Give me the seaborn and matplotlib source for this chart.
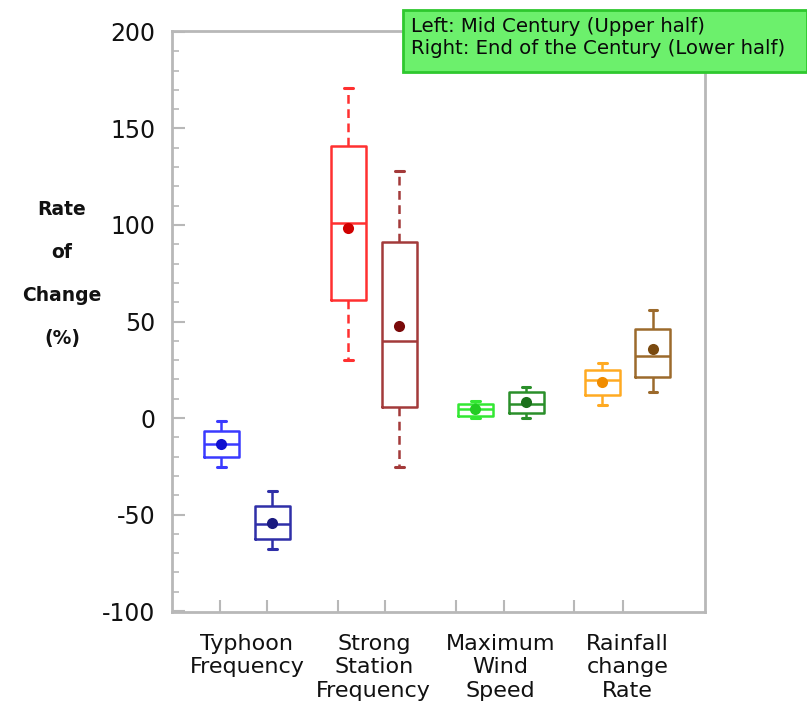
import numpy as np
import pandas as pd
import matplotlib
matplotlib.use("Agg")
import matplotlib.pyplot as plt
import matplotlib.patches as mpatches
from matplotlib.ticker import MultipleLocator, FixedLocator
import seaborn as sns

# ---------------- data ----------------
categories = ["Typhoon\nFrequency", "Strong\nStation\nFrequency",
              "Maximum\nWind\nSpeed", "Rainfall\nchange\nRate"]
periods = ["Mid Century", "End of the Century"]

# Mid century (left box of each pair)
whisker_low_mid = [-25.5, 30.0, 0.0, 7.0]
q1_mid = [-20.0, 61.0, 1.0, 12.0]
median_mid = [-13.5, 101.0, 4.5, 19.5]
q3_mid = [-6.5, 141.0, 7.5, 25.0]
whisker_high_mid = [-1.5, 171.0, 9.0, 28.5]
mean_mid = [-13.5, 98.5, 4.5, 18.5]

# End of the century (right box of each pair)
whisker_low_end = [-68.0, -25.5, 0.0, 13.5]
q1_end = [-62.5, 5.5, 2.5, 21.0]
median_end = [-55.0, 40.0, 7.5, 32.0]
q3_end = [-45.5, 91.0, 13.5, 46.0]
whisker_high_end = [-38.0, 128.0, 16.0, 56.0]
mean_end = [-54.5, 47.5, 8.5, 36.0]

# colours: (mid, end) per category, and darker for the mean dots
box_colors = [("#3a3aff", "#2f2fa8"), ("#ff3030", "#a33a3a"),
              ("#33e833", "#2a8f2a"), ("#ffaa22", "#9c6a2c")]
mean_colors = [("#1010d0", "#1a1a80"), ("#d00000", "#7a0a0a"),
               ("#22cc22", "#1a701a"), ("#f08c00", "#7a4a10")]
dashed_whiskers = [False, True, False, False]

# ---------------- long-form tables ----------------
rows = []
for i, cat in enumerate(categories):
    for per, stats in [(periods[0], (whisker_low_mid, q1_mid, median_mid, q3_mid, whisker_high_mid)),
                       (periods[1], (whisker_low_end, q1_end, median_end, q3_end, whisker_high_end))]:
        for arr in stats:
            rows.append({"category": cat, "period": per, "value": arr[i]})
df = pd.DataFrame(rows)

mean_rows = []
for i, cat in enumerate(categories):
    mean_rows.append({"category": cat, "period": periods[0], "mean": mean_mid[i]})
    mean_rows.append({"category": cat, "period": periods[1], "mean": mean_end[i]})
mdf = pd.DataFrame(mean_rows)

# ---------------- plot ----------------
sns.set_style("white")
plt.rcParams["font.family"] = ["DejaVu Sans"]
plt.rcParams["axes.unicode_minus"] = False

fig = plt.figure(figsize=(8.07, 7.06), dpi=100)
ax = fig.add_axes([0.2131, 0.1331, 0.6605, 0.8230])

for i, cat in enumerate(categories):
    wprops = {"linestyle": (0, (3.5, 2.2))} if dashed_whiskers[i] else {}
    sns.boxplot(data=df[df["category"] == cat], x="category", y="value",
                hue="period", order=categories, hue_order=periods,
                palette=list(box_colors[i]), fill=False, width=0.8, gap=0.31,
                whis=(0, 100), linewidth=1.8, legend=False, ax=ax,
                whiskerprops=wprops, showfliers=False)
    sns.stripplot(data=mdf[mdf["category"] == cat], x="category", y="mean",
                  hue="period", order=categories, hue_order=periods,
                  palette=list(mean_colors[i]), dodge=True, jitter=False,
                  size=8, legend=False, ax=ax, zorder=5)

# shrink caps
for cont in ax.containers:
    if hasattr(cont, "caps"):
        for cap in cont.caps:
            xd = np.asarray(cap.get_xdata(), dtype=float)
            c = xd.mean()
            cap.set_xdata([c - 0.035, c + 0.035])
            cap.set_linewidth(2.2)

ax.set_xlim(-0.59, 3.61)
ax.set_ylim(-100.5, 200.5)
ax.set_xlabel("")
ax.set_ylabel("")

frame_col = "#b8b8b8"
for sp in ax.spines.values():
    sp.set_visible(True)
    sp.set_color(frame_col)
    sp.set_linewidth(2)

ax.yaxis.set_major_locator(MultipleLocator(50))
ax.yaxis.set_minor_locator(MultipleLocator(10))
ax.tick_params(axis="y", which="both", left=True)
ax.tick_params(axis="y", which="major", direction="in", length=9, width=1.5,
               color=frame_col, labelsize=17, pad=12, labelcolor="#111111")
ax.tick_params(axis="y", which="minor", direction="in", length=5, width=1.2,
               color=frame_col)

ax.set_xticks(range(len(categories)))
ax.set_xticklabels(categories, fontsize=16, linespacing=1.2)
ax.xaxis.set_minor_locator(FixedLocator([-0.21, 0.16, 0.72, 1.09, 1.65, 2.03, 2.58, 2.96]))
ax.tick_params(axis="x", which="both", bottom=True)
ax.tick_params(axis="x", which="major", length=0, pad=16, labelcolor="#111111")
ax.tick_params(axis="x", which="minor", direction="in", length=9, width=1.5,
               color=frame_col)

# y axis label (horizontal, stacked)
fig.text(62 / 807, 1 - 274 / 706, "Rate\nof\nChange\n(%)", ha="center", va="center",
         fontsize=13.5, fontweight="bold", linespacing=2.6, color="#111111")

# legend-like note box
rect = mpatches.Rectangle((403 / 807, 1 - 72 / 706), 1.0 - 403 / 807, 62 / 706,
                          transform=fig.transFigure, facecolor="#6cf06c",
                          edgecolor="#2ec82e", linewidth=2, zorder=10)
fig.patches.append(rect)
fig.text(411 / 807, 1 - 26 / 706, "Left: Mid Century (Upper half)", ha="left",
         va="center", fontsize=14.2, color="#0a0a0a", zorder=11)
fig.text(411 / 807, 1 - 49 / 706, "Right: End of the Century (Lower half)", ha="left",
         va="center", fontsize=14.2, color="#0a0a0a", zorder=11)

fig.savefig("out.png", dpi=100)
